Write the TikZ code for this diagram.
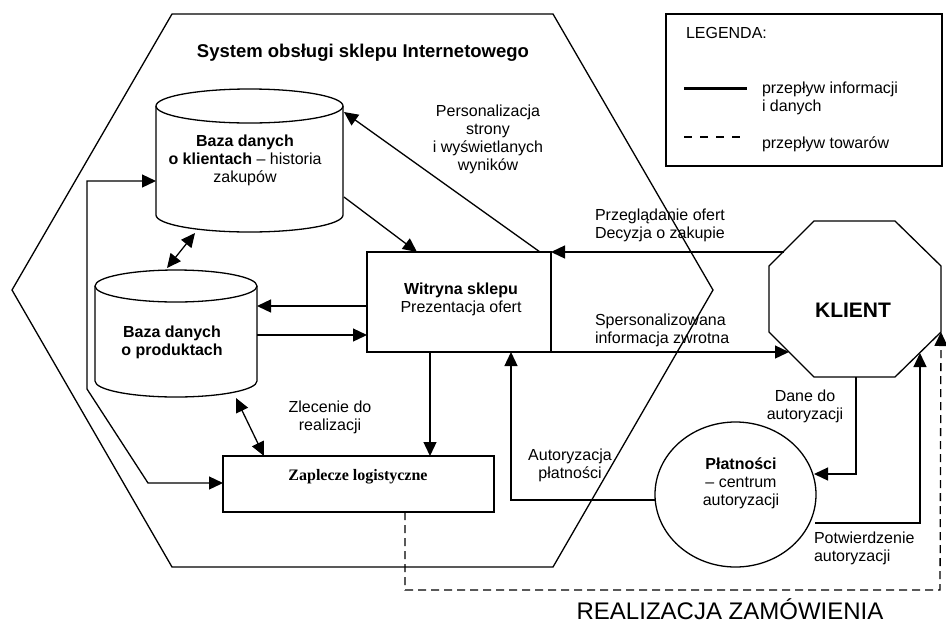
\documentclass[tikz,border=0pt]{standalone}
\usepackage{fontspec}
\setmainfont{Liberation Sans}
\newfontfamily\timesfont{Liberation Serif}
\usetikzlibrary{arrows.meta,shapes.geometric,calc}

\begin{document}
\begin{tikzpicture}[x=1pt,y=1pt,
 every node/.style={font=\fontsize{16}{18}\selectfont, inner sep=0pt, outer sep=0pt},
 ln/.style={line width=1.3pt, line join=miter},
 arr/.style={ln, -{Triangle[length=14pt,width=13pt]}},
 darr/.style={ln, {Triangle[length=14pt,width=13pt]}-{Triangle[length=14pt,width=13pt]}},
 boxst/.style={draw, line width=1.3pt, rectangle, fill=white},
 goods/.style={ln, dash pattern=on 8pt off 5pt},
 lbl/.style={align=center},
 lbll/.style={align=left, anchor=west},
]
\useasboundingbox (0,0) rectangle (946,-625);

% system hexagon
\draw[ln] (172,-14) -- (553,-14) -- (713,-290) -- (553,-567) -- (172,-567) -- (12,-290) -- cycle;
\node[font=\fontsize{18.5}{22}\selectfont\bfseries] (title) at (363,-53) {System obsługi sklepu Internetowego};

% cylinder 1: Baza danych o klientach
\draw[ln, fill=white] (156,-106) -- (156,-215) arc[start angle=180, end angle=360, x radius=93.5pt, y radius=17pt] -- (343,-106);
\draw[ln] (249.5,-106) ellipse [x radius=93.5pt, y radius=17pt];
\node[lbl] (c1) at (245,-160) {\textbf{Baza danych}\\\textbf{o klientach} – historia\\zakupów};

% cylinder 2: Baza danych o produktach
\draw[ln, fill=white] (95,-286) -- (95,-381) arc[start angle=180, end angle=360, x radius=81pt, y radius=16pt] -- (257,-286);
\draw[ln] (176,-286) ellipse [x radius=81pt, y radius=16pt];
\node[lbl, font=\fontsize{16}{18}\selectfont\bfseries] (c2) at (172,-342) {Baza danych\\o produktach};

% Witryna
\node[boxst, minimum width=184pt, minimum height=100pt] (wit) at (459,-302) {};
\node[lbl] (wittxt) at (461,-299) {\textbf{Witryna sklepu}\\Prezentacja ofert};

% Zaplecze
\node[boxst, minimum width=271pt, minimum height=56pt] (zap) at (358.5,-484) {};
\node (zaptxt) at (358,-477) {\timesfont\bfseries Zaplecze logistyczne};

% Platnosci
\node[draw, ellipse, line width=1.3pt, minimum width=161pt, minimum height=145pt] (pla) at (735.5,-494.5) {};
\node[lbl] (platxt) at (741,-483) {\textbf{Płatności}\\– centrum\\autoryzacji};

% KLIENT octagon
\draw[ln, fill=white] (814,-221) -- (895,-221) -- (941,-266) -- (941,-332) -- (895,-377) -- (814,-377) -- (769,-332) -- (769,-266) -- cycle;
\node[font=\fontsize{21}{24}\selectfont\bfseries] (kli) at (853,-310) {KLIENT};

% legend
\node[draw, line width=1.5pt, minimum width=276pt, minimum height=152pt] (leg) at (804,-90) {};
\node[anchor=west] (legt) at (686,-33) {LEGENDA:};
\coordinate (ls1) at (684,-88);
\coordinate (ls2) at (747,-88);
\draw[line width=3pt] (ls1) -- (ls2);
\node[lbll] (legi) at (762,-98) {przepływ informacji\\i danych};
\coordinate (ld1) at (684,-137);
\coordinate (ld2) at (747,-137);
\draw[line width=1.5pt, dash pattern=on 8pt off 8pt] (ld1) -- (ld2);
\node[lbll] (legg) at (762,-144) {przepływ towarów};

% attachment points
\coordinate (witTopR) at (540,-252);
\coordinate (c1R) at (344,-112);
\coordinate (c1Rb) at (344,-197);
\coordinate (witTopL) at (417,-252);
\coordinate (c2T) at (167,-268);
\coordinate (c1B) at (195,-233);
\coordinate (witL1) at (367,-306);
\coordinate (c2R1) at (257,-306);
\coordinate (c2R2) at (257,-335);
\coordinate (witL2) at (367,-335);
\coordinate (witB1) at (430,-352);
\coordinate (zapT1) at (430,-456);
\coordinate (c2B) at (236,-398);
\coordinate (zapT2) at (264,-456);
\coordinate (c1L) at (156,-181);
\coordinate (zapL) at (223,-483);
\coordinate (kliUL) at (784,-252);
\coordinate (witR) at (551,-252);
\coordinate (witBR) at (551,-352);
\coordinate (kliLL) at (789,-352);
\coordinate (plaL) at (655,-500);
\coordinate (witB2) at (511,-352);
\coordinate (kliB) at (856,-377);
\coordinate (plaR1) at (814,-474);
\coordinate (plaR2) at (815,-523);
\coordinate (kliLR) at (920,-353);
\coordinate (zapB) at (405,-512);
\coordinate (kliR) at (941,-332);

% connectors
\draw[arr] (witTopR) -- (c1R);
\draw[arr] (c1Rb) -- (witTopL);
\draw[darr] (c2T) -- (c1B);
\draw[arr] (witL1) -- (c2R1);
\draw[arr] (c2R2) -- (witL2);
\draw[arr] (witB1) -- (zapT1);
\draw[darr] (c2B) -- (zapT2);
\draw[darr] (c1L) -- (87,-181) -- (87,-389) -- (148,-483) -- (zapL);
\draw[arr] (kliUL) -- (witR);
\draw[arr] (witBR) -- (kliLL);
\draw[arr] (plaL) -- (witB2 |- plaL) -- (witB2);
\draw[arr] (kliB) -- (kliB |- plaR1) -- (plaR1);
\draw[arr] (plaR2) -- (kliLR |- plaR2) -- (kliLR);
\draw[goods, -{Triangle[length=14pt,width=13pt]}] (zapB) -- (405,-590) -- (940,-590) -- (kliR);

% labels
\node[lbl] (lpers) at (488,-139) {Personalizacja\\strony\\i wyświetlanych\\wyników};
\node[lbll] (lprz) at (595,-225) {Przeglądanie ofert\\Decyzja o zakupie};
\node[lbll] (lspe) at (595,-330) {Spersonalizowana\\informacja zwrotna};
\node[lbl] (lzle) at (330,-417) {Zlecenie do\\realizacji};
\node[lbl] (laut) at (570,-465) {Autoryzacja\\płatności};
\node[lbl] (ldan) at (805,-406) {Dane do\\autoryzacji};
\node[lbll] (lpot) at (814,-548) {Potwierdzenie\\autoryzacji};
\node[font=\fontsize{24}{28}\selectfont, anchor=base] (lreal) at (730,-619) {REALIZACJA ZAMÓWIENIA};
\end{tikzpicture}
\end{document}
